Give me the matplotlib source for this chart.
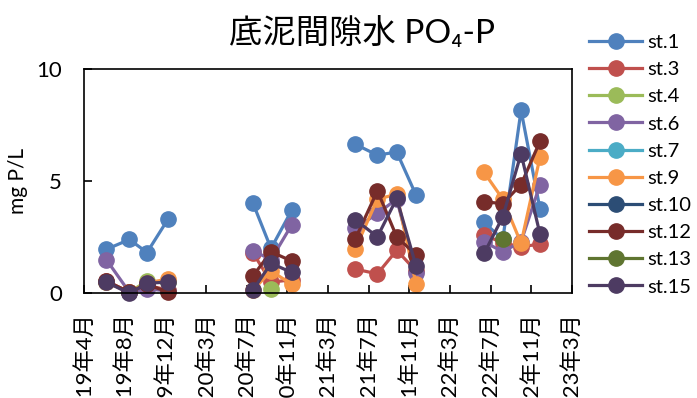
import numpy as np
import pandas as pd
import matplotlib
matplotlib.use("Agg")
from matplotlib import pyplot as plt

plt.rcParams['font.family'] = ['Lato', 'Noto Sans CJK JP', 'DejaVu Sans']

# sampling dates (four surveys per year, none in 2020 spring)
dates = pd.to_datetime([
    '2019-06-10', '2019-08-17', '2019-10-08', '2019-12-10',
    '2020-08-16', '2020-10-08', '2020-12-08',
    '2021-06-13', '2021-08-18', '2021-10-14', '2021-12-10',
    '2022-06-29', '2022-08-23', '2022-10-16', '2022-12-11',
])

nan = np.nan
stations = ['st.1', 'st.3', 'st.4', 'st.6', 'st.7', 'st.9', 'st.10', 'st.12', 'st.13', 'st.15']
st1 = [1.96, 2.40, 1.82, 3.33, 4.01, 2.00, 3.70, 6.65, 6.16, 6.30, 4.38, 3.16, 2.40, 8.16, 3.75]
st3 = [0.55, 0.05, 0.35, 0.15, 1.80, 0.50, 0.60, 1.08, 0.87, 1.92, 1.00, 2.60, 2.25, 2.07, 2.20]
st4 = [0.50, 0.05, 0.55, 0.50, nan, 0.20, nan, nan, nan, nan, nan, nan, nan, nan, nan]
st6 = [1.50, 0.05, 0.20, 0.10, 1.90, 1.50, 3.05, 2.89, 3.56, 4.20, 0.89, 2.30, 1.85, 2.30, 4.85]
st7 = [nan] * 15
st9 = [0.50, 0.05, 0.45, 0.65, 0.15, 1.00, 0.40, 1.96, 4.20, 4.42, 0.41, 5.39, 4.20, 2.23, 6.08]
st10 = [nan] * 15
st12 = [0.55, 0.05, 0.40, 0.05, 0.78, 1.85, 1.44, 2.40, 4.57, 2.52, 1.71, 4.08, 4.00, 4.85, 6.78]
st13 = [nan, nan, nan, nan, nan, nan, nan, nan, nan, nan, nan, nan, 2.42, nan, nan]
st15 = [0.50, 0.00, 0.45, 0.50, 0.15, 1.34, 0.93, 3.29, 2.52, 4.23, 1.22, 1.78, 3.41, 6.23, 2.63]
values = [st1, st3, st4, st6, st7, st9, st10, st12, st13, st15]

colors = ['#4F81BD', '#C0504D', '#9BBB59', '#8064A2', '#4BACC6',
          '#F79646', '#2C4D75', '#772C2A', '#5F7530', '#4D3B62']

# date axis: 120-day steps from 2019-04-05
x_start = pd.Timestamp('2019-04-05')
ticks = pd.date_range(x_start, periods=13, freq='120D')
tick_labels = [f'{d.year}年{d.month}月' for d in ticks]

fig = plt.figure(figsize=(6.97, 3.98), dpi=100)
ax = fig.add_axes([0.1205, 0.263, 0.700, 0.5636])

for name, vals, c in zip(stations, values, colors):
    s = pd.Series(vals, index=dates, dtype=float)
    for i, (yr, seg) in enumerate(s.groupby(s.index.year)):
        ax.plot(seg.index, seg.values, '-o', color=c, lw=2.3, ms=11,
                clip_on=False, label=name if i == 0 else None)

ax.set_xlim(ticks[0], ticks[-1])
ax.set_ylim(0, 10)
ax.set_yticks([0, 5, 10])
ax.set_xticks(ticks)
ax.set_xticklabels(tick_labels, rotation=90, fontsize=16, va='top')
ax.tick_params(axis='both', direction='in', length=6, width=1.2)
ax.tick_params(axis='x', pad=14)
ax.tick_params(axis='y', pad=16, labelsize=16)
for sp in ax.spines.values():
    sp.set_linewidth(1.2)
    sp.set_color('black')

ax.set_ylabel('mg P/L', fontsize=15, labelpad=6)
fig.text(0.52, 0.917, '底泥間隙水 PO₄-P', fontsize=24, ha='center', va='center')

fig.legend(loc='upper left', bbox_to_anchor=(0.834, 0.935), frameon=False,
           fontsize=14.5, handlelength=2.6, handletextpad=0.3, labelspacing=0.5,
           borderaxespad=0)

fig.savefig('out.png', dpi=100)
